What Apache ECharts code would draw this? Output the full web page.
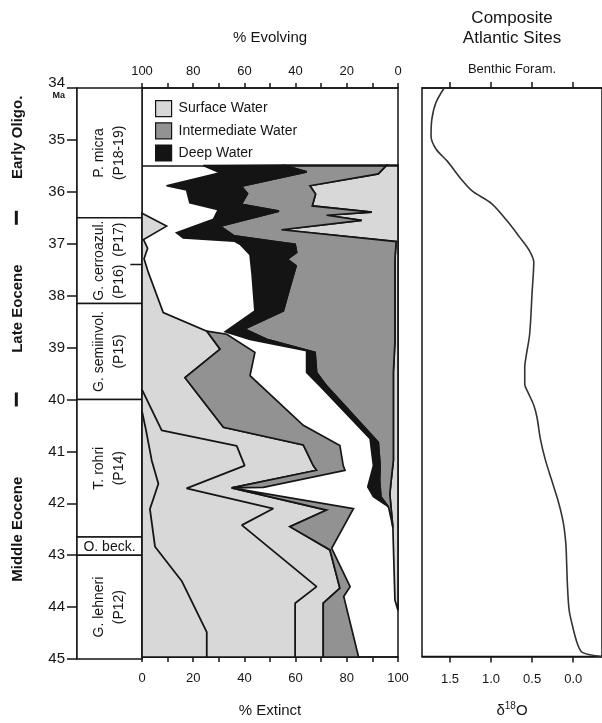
<!DOCTYPE html>
<html>
<head>
<meta charset="utf-8">
<script src="https://cdn.jsdelivr.net/npm/echarts@6/dist/echarts.min.js"></script>
<style>
html,body{margin:0;padding:0;background:#fff;}
#chart{width:602px;height:723px;}
</style>
</head>
<body>
<div id="chart"></div>
<script>
// epochs (Ma)
var epochNames = ['Early Oligo.', 'Late Eocene', 'Middle Eocene'];
var epochTops = [33.4, 36.5, 40];
var epochBottoms = [36.5, 40, 45];
var epochBounds = [36.5, 40];

// planktonic foram zones (Ma)
var zoneNames = ['P. micra\n(P18-19)', 'G. cerroazul.\n(P16)  (P17)', 'G. semiinvol.\n(P15)', 'T. rohri\n(P14)', 'O. beck.', 'G. lehneri\n(P12)'];
var zoneTops = [34, 36.5, 38.15, 40, 42.65, 43];
var zoneBottoms = [36.5, 38.15, 40, 42.65, 43, 45];
var zoneSubBounds = [37.4];

var dataTopAge = 35.5;

// boundaries, [% extinct axis, age Ma]
var surfaceExtinctEdge = [[0,36.42],[9.6,36.67],[0.6,36.93],[2.2,37.1],[0.8,37.3],[2.5,37.57],[8.3,38.34],[25.3,38.70],[30.5,39.05],[16.8,39.60],[31.8,40.56],[63.0,40.90],[66.9,41.30],[68.2,41.39],[35.0,41.73],[72.1,42.16],[57.8,42.48],[73.4,42.93],[77.3,43.67],[70.8,43.96],[70.8,45]];
var intermediateExtinctEdge = [[25.3,38.70],[33.1,38.76],[44.1,39.11],[42.2,39.56],[63.0,40.52],[77.3,40.91],[78.6,41.30],[79.3,41.39],[47.4,41.72],[35.0,41.73],[82.6,42.13],[74.1,42.90],[81.3,43.64],[78.8,43.83],[84.6,45]];
var extinctLine1 = [[0,40.25],[1.5,40.6],[3.8,41.2],[6.4,41.65],[3.1,42.14],[5.1,42.87],[15.5,43.53],[25.3,44.52],[25.3,45]];
var extinctLine2 = [[0,39.83],[7.7,40.62],[37.0,40.92],[40.1,41.3],[17.4,41.74],[51.3,42.13],[39.0,42.45],[68.2,43.64],[59.8,43.96],[59.8,45]];

var surfaceEvolvingEdge = [[95.6,35.49],[92.3,35.66],[65.6,35.89],[67.8,36.05],[66.5,36.28],[89.8,36.40],[72.1,36.46],[85.8,36.56],[54.5,36.74],[99.3,36.97],[98.8,37.3],[98.8,38.9],[98.2,39.5],[98.2,41.2],[97.3,41.6],[96.8,41.85],[98.0,42.5],[98.8,43.9],[100,44.1]];
var intermediateEvolvingEdge = [[55.2,35.49],[64.3,35.62],[38.8,35.90],[41.2,36.04],[38.8,36.25],[53.5,36.38],[30.5,36.67],[36,36.86],[52,36.97],[59.8,37.02],[60.4,37.18],[56.7,37.31],[60.2,37.44],[57.5,37.9],[55.2,38.31],[40,38.66],[48.7,38.86],[67.6,39.11],[68.2,39.50],[72.1,39.76],[92.3,40.85],[93.0,41.30],[92.8,41.58],[93.3,41.90],[96.3,42.10],[97.4,42.35],[98.0,42.5]];
var deepEvolvingEdge = [[23.9,35.50],[30.5,35.64],[9.6,35.89],[17.4,35.97],[18.7,36.22],[29.8,36.35],[27.9,36.54],[13.5,36.80],[16.1,36.90],[36,36.96],[38.3,37.02],[42.2,37.22],[43.0,37.6],[44.1,38.31],[32.5,38.71],[42.2,38.86],[64.3,39.08],[64.3,39.50],[69.5,39.76],[89.1,40.78],[90.4,41.30],[88.2,41.71],[90.4,41.90],[95.6,42.07],[96.3,42.10]];

// benthic foram d18O, [permil, age Ma]
var d18O = [[1.57,34.0],[1.67,34.28],[1.72,34.6],[1.73,34.93],[1.67,35.18],[1.53,35.42],[1.37,35.75],[1.23,35.99],[0.99,36.24],[0.81,36.56],[0.65,36.89],[0.54,37.13],[0.48,37.37],[0.50,37.94],[0.53,38.76],[0.57,39.16],[0.59,39.41],[0.59,39.73],[0.55,39.89],[0.48,40.14],[0.44,40.38],[0.40,40.79],[0.34,41.19],[0.26,41.60],[0.18,42.01],[0.12,42.42],[0.09,42.82],[0.08,43.2],[0.07,43.64],[0.05,44.1],[0.01,44.4],[-0.05,44.75],[-0.11,44.92],[-0.35,45.0]];
var d18OTicks = [0, 0.5, 1.0, 1.5];

var FONT = '"Liberation Sans", Arial, sans-serif';
var INK = '#151515';
var LIGHT = '#d8d8d8', MID = '#929292', DARK = '#141414';

function upto(arr, age) { return arr.filter(function (p) { return p[1] <= age; }); }
function from(arr, age) { return arr.filter(function (p) { return p[1] >= age; }); }

var surfaceExtinctPoly = [[0, surfaceExtinctEdge[0][1]]].concat(surfaceExtinctEdge, [[0, 45]]);
var intermediateExtinctPoly = intermediateExtinctEdge.concat(from(surfaceExtinctEdge, intermediateExtinctEdge[0][1]).reverse());
var surfaceEvolvingPoly = surfaceEvolvingEdge.concat([[100, surfaceEvolvingEdge[0][1]]]);
var ivLast = intermediateEvolvingEdge[intermediateEvolvingEdge.length - 1][1];
var intermediateEvolvingPoly = intermediateEvolvingEdge.concat(upto(surfaceEvolvingEdge, ivLast).reverse());
var dvLast = deepEvolvingEdge[deepEvolvingEdge.length - 1][1];
var deepEvolvingPoly = deepEvolvingEdge.concat(upto(intermediateEvolvingEdge, dvLast).reverse());

function polySeries(name, pts, fill) {
    return {
        type: 'custom', name: name, xAxisIndex: 2, yAxisIndex: 2, silent: true,
        itemStyle: {color: fill, borderColor: INK, borderWidth: 1},
        data: [pts[0]],
        renderItem: function (params, api) {
            var p = pts.map(function (d) { return api.coord(d); });
            return {type: 'polygon', shape: {points: p},
                style: {fill: fill, stroke: INK, lineWidth: 1.7, lineJoin: 'miter', miterLimit: 4}};
        }
    };
}
function lineSeries(pts, xi, yi, extra) {
    var s = {
        type: 'line', xAxisIndex: xi, yAxisIndex: yi, data: pts, symbol: 'none', silent: true,
        lineStyle: {color: INK, width: 1.8}, z: 5
    };
    for (var k in extra) s[k] = extra[k];
    return s;
}

var chart = echarts.init(document.getElementById('chart'), null, {renderer: 'canvas'});
var hidden = {show: false};
var option = {
    animation: false,
    backgroundColor: '#fff',
    textStyle: {fontFamily: FONT, color: INK},
    legend: {
        data: ['Surface Water', 'Intermediate Water', 'Deep Water'],
        orient: 'vertical', left: 150, top: 95, icon: 'rect',
        itemWidth: 16, itemHeight: 16, itemGap: 5, selectedMode: false,
        itemStyle: {borderColor: INK, borderWidth: 1.2},
        textStyle: {fontSize: 14, fontFamily: FONT, color: INK, padding: [0, 0, 0, 2]}
    },
    grid: [
        {left: 0, top: 88, width: 34, height: 571},
        {left: 77, top: 88, width: 65, height: 571},
        {left: 142, top: 88, width: 256, height: 571, show: true, borderColor: INK, borderWidth: 1.5, backgroundColor: 'transparent'},
        {left: 422, top: 88, width: 180, height: 571, show: true, borderColor: INK, borderWidth: 1.5}
    ],
    xAxis: [
        {gridIndex: 0, type: 'value', min: 0, max: 1, show: false},
        {gridIndex: 1, type: 'value', min: 0, max: 1, show: false},
        {gridIndex: 2, type: 'value', min: 0, max: 100, interval: 10, position: 'bottom',
            name: '% Extinct', nameLocation: 'middle', nameGap: 46,
            nameTextStyle: {fontSize: 15, color: INK},
            axisLine: {lineStyle: {color: INK, width: 1.5}},
            axisTick: {inside: false, length: 5, lineStyle: {color: INK, width: 1.5}},
            axisLabel: {margin: 15, fontSize: 13, color: INK, formatter: function (v) { return v % 20 === 0 ? v : ''; }},
            splitLine: hidden},
        {gridIndex: 2, type: 'value', min: 0, max: 100, interval: 10, inverse: true, position: 'top',
            name: '% Evolving', nameLocation: 'middle', nameGap: 43,
            nameTextStyle: {fontSize: 15, color: INK},
            axisLine: {lineStyle: {color: INK, width: 1.5}},
            axisTick: {inside: false, length: 5, lineStyle: {color: INK, width: 1.5}},
            axisLabel: {margin: 10, fontSize: 13, color: INK, formatter: function (v) { return v % 20 === 0 ? v : ''; }},
            splitLine: hidden},
        {gridIndex: 3, type: 'value', min: -0.35, max: 1.84, inverse: true, position: 'bottom',
            name: '\u03b4{sup|18}O', nameLocation: 'middle', nameGap: 45,
            nameTextStyle: {fontSize: 15, color: INK, rich: {sup: {fontSize: 10, verticalAlign: 'top', padding: [0, 0, 8, 0]}}},
            axisLine: {lineStyle: {color: INK, width: 1.5}},
            axisTick: {inside: false, length: 6, customValues: d18OTicks, lineStyle: {color: INK, width: 1.5}},
            axisLabel: {margin: 16, fontSize: 13, color: INK, customValues: d18OTicks, formatter: function (v) { return v.toFixed(1); }},
            splitLine: hidden},
        {gridIndex: 3, type: 'value', min: -0.35, max: 1.84, inverse: true, position: 'top',
            name: 'Benthic Foram.', nameLocation: 'middle', nameGap: 12,
            nameTextStyle: {fontSize: 13, color: INK},
            axisLine: {lineStyle: {color: INK, width: 1.5}},
            axisTick: {inside: false, length: 6, customValues: d18OTicks, lineStyle: {color: INK, width: 1.5}},
            axisLabel: {show: false}, splitLine: hidden},
        {gridIndex: 3, type: 'value', min: -0.35, max: 1.84, position: 'top', offset: 0,
            name: 'Composite\nAtlantic Sites', nameLocation: 'middle', nameGap: 40,
            nameTextStyle: {fontSize: 17, color: INK, lineHeight: 20},
            axisLine: hidden, axisTick: hidden, axisLabel: hidden, splitLine: hidden}
    ],
    yAxis: [
        {gridIndex: 0, type: 'value', min: 34, max: 45, inverse: true, show: false},
        {gridIndex: 1, type: 'value', min: 34, max: 45, interval: 1, inverse: true, position: 'left',
            axisLine: {lineStyle: {color: INK, width: 1.5}},
            axisTick: {inside: false, length: 10, lineStyle: {color: INK, width: 1.5}},
            axisLabel: {margin: 12, fontSize: 15, color: INK,
                formatter: function (v) { return v === 34 ? '{n|34}\n{ma|Ma}' : String(v); },
                rich: {n: {fontSize: 15, lineHeight: 15}, ma: {fontSize: 9, fontWeight: 'bold', lineHeight: 10}}},
            splitLine: hidden},
        {gridIndex: 2, type: 'value', min: 34, max: 45, inverse: true, show: false},
        {gridIndex: 3, type: 'value', min: 34, max: 45, inverse: true, show: false}
    ],
    series: [
        // epochs
        {
            type: 'custom', xAxisIndex: 0, yAxisIndex: 0, silent: true,
            data: epochNames.map(function (n, i) { return [0.5, (epochTops[i] + epochBottoms[i]) / 2]; }),
            renderItem: function (params, api) {
                var c = api.coord([api.value(0), api.value(1)]);
                return {type: 'text', x: c[0] + 1, y: c[1], rotation: Math.PI / 2,
                    style: {text: epochNames[params.dataIndex], align: 'center', verticalAlign: 'middle',
                        textAlign: 'center', textVerticalAlign: 'middle',
                        font: 'bold 15px ' + FONT, fill: INK}};
            }
        },
        {
            type: 'custom', xAxisIndex: 0, yAxisIndex: 0, silent: true,
            data: epochBounds.map(function (b) { return [0.48, b]; }),
            renderItem: function (params, api) {
                var c = api.coord([api.value(0), api.value(1)]);
                return {type: 'rect', shape: {x: c[0] - 1.5, y: c[1] - 7, width: 3, height: 14}, style: {fill: INK}};
            }
        },
        // zones
        {
            type: 'custom', xAxisIndex: 1, yAxisIndex: 1, silent: true,
            data: zoneNames.map(function (n, i) { return [0.5, (zoneTops[i] + zoneBottoms[i]) / 2]; }),
            renderItem: function (params, api) {
                var i = params.dataIndex;
                var tl = api.coord([0, zoneTops[i]]);
                var br = api.coord([1, zoneBottoms[i]]);
                var h = br[1] - tl[1];
                var rot = h > 30;
                return {type: 'group', children: [
                    {type: 'rect', shape: {x: tl[0], y: tl[1], width: br[0] - tl[0], height: h},
                        style: {fill: '#fff', stroke: INK, lineWidth: 1.5}},
                    {type: 'text', x: (tl[0] + br[0]) / 2, y: (tl[1] + br[1]) / 2 + (rot ? 0 : 1),
                        rotation: rot ? Math.PI / 2 : 0,
                        style: {text: zoneNames[i], align: 'center', verticalAlign: 'middle',
                            textAlign: 'center', textVerticalAlign: 'middle',
                            font: '14px ' + FONT, fill: INK, lineHeight: 20}}
                ]};
            }
        },
        {
            type: 'custom', xAxisIndex: 1, yAxisIndex: 1, silent: true, z: 3,
            data: zoneSubBounds.map(function (b) { return [0.82, b]; }),
            renderItem: function (params, api) {
                var a = api.coord([api.value(0), api.value(1)]);
                var b = api.coord([1, api.value(1)]);
                return {type: 'line', shape: {x1: a[0], y1: a[1], x2: b[0], y2: b[1]}, style: {stroke: INK, lineWidth: 1.5}};
            }
        },
        // main panel
        polySeries('Surface Water', surfaceExtinctPoly, LIGHT),
        polySeries('Intermediate Water', intermediateExtinctPoly, MID),
        polySeries('Surface Water', surfaceEvolvingPoly, LIGHT),
        polySeries('Intermediate Water', intermediateEvolvingPoly, MID),
        polySeries('Deep Water', deepEvolvingPoly, DARK),
        lineSeries(extinctLine1, 2, 2, {
            markLine: {silent: true, symbol: ['none', 'none'], label: {show: false},
                lineStyle: {color: INK, type: 'solid', width: 1.5}, data: [{yAxis: dataTopAge}]}
        }),
        lineSeries(extinctLine2, 2, 2, {}),
        // d18O
        lineSeries(d18O, 4, 3, {smooth: 0.3, lineStyle: {color: '#333', width: 1.6}})
    ]
};
chart.setOption(option);
</script>
</body>
</html>
